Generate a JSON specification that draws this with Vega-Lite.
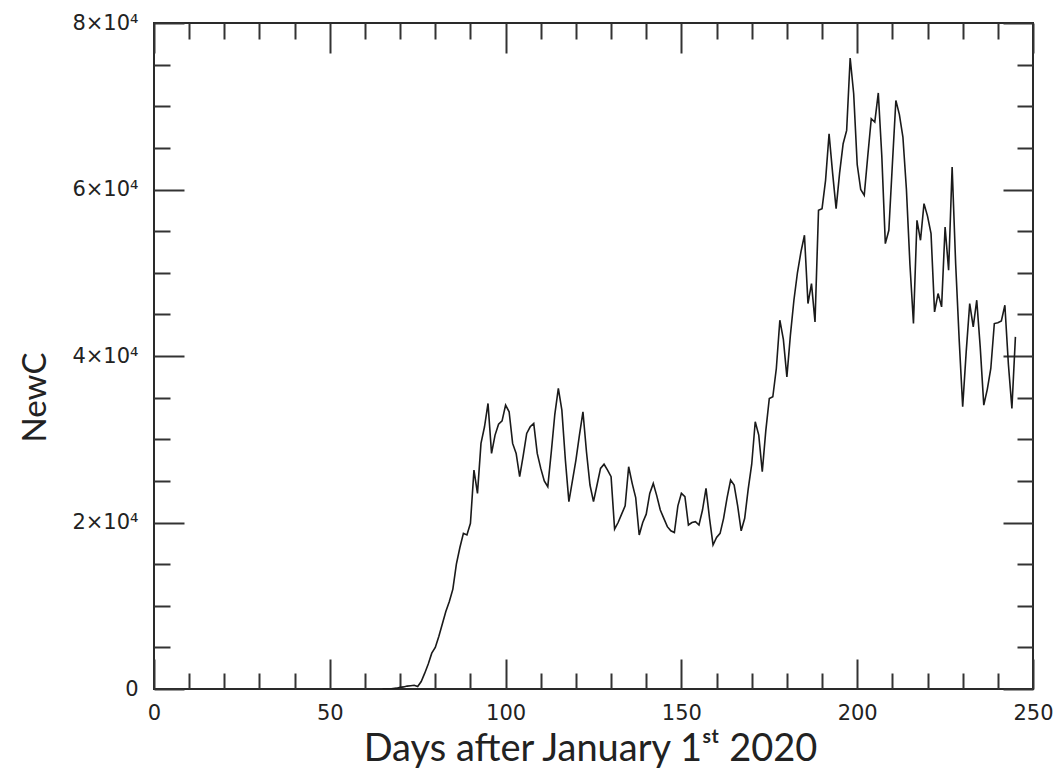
{
  "$schema": "https://vega.github.io/schema/vega-lite/v6.json",
  "width": 879,
  "height": 666,
  "autosize": {"type": "none"},
  "padding": {"left": 154, "top": 23, "right": 29, "bottom": 85},
  "background": "white",
  "config": {
    "view": {"stroke": "#2a2a2a", "strokeWidth": 2},
    "axis": {"domain": false, "grid": false, "tickColor": "#333", "tickWidth": 2}
  },
  "data": {"values": [
    {"day": 65, "NewC": 0}, {"day": 66, "NewC": 0}, {"day": 67, "NewC": 0}, {"day": 68, "NewC": 50}, {"day": 69, "NewC": 100},
    {"day": 70, "NewC": 200}, {"day": 71, "NewC": 250}, {"day": 72, "NewC": 350}, {"day": 73, "NewC": 400}, {"day": 74, "NewC": 450},
    {"day": 75, "NewC": 300}, {"day": 76, "NewC": 900}, {"day": 77, "NewC": 1900}, {"day": 78, "NewC": 3000}, {"day": 79, "NewC": 4300},
    {"day": 80, "NewC": 5000}, {"day": 81, "NewC": 6300}, {"day": 82, "NewC": 7800}, {"day": 83, "NewC": 9300}, {"day": 84, "NewC": 10500},
    {"day": 85, "NewC": 12000}, {"day": 86, "NewC": 15000}, {"day": 87, "NewC": 17000}, {"day": 88, "NewC": 18700}, {"day": 89, "NewC": 18500},
    {"day": 90, "NewC": 19900}, {"day": 91, "NewC": 26300}, {"day": 92, "NewC": 23500}, {"day": 93, "NewC": 29500}, {"day": 94, "NewC": 31500},
    {"day": 95, "NewC": 34300}, {"day": 96, "NewC": 28300}, {"day": 97, "NewC": 30500}, {"day": 98, "NewC": 31800}, {"day": 99, "NewC": 32200},
    {"day": 100, "NewC": 34100}, {"day": 101, "NewC": 33300}, {"day": 102, "NewC": 29500}, {"day": 103, "NewC": 28300}, {"day": 104, "NewC": 25500},
    {"day": 105, "NewC": 28000}, {"day": 106, "NewC": 30700}, {"day": 107, "NewC": 31500}, {"day": 108, "NewC": 31900}, {"day": 109, "NewC": 28300},
    {"day": 110, "NewC": 26500}, {"day": 111, "NewC": 25000}, {"day": 112, "NewC": 24300}, {"day": 113, "NewC": 28500}, {"day": 114, "NewC": 33000},
    {"day": 115, "NewC": 36100}, {"day": 116, "NewC": 33500}, {"day": 117, "NewC": 27500}, {"day": 118, "NewC": 22500}, {"day": 119, "NewC": 25000},
    {"day": 120, "NewC": 27500}, {"day": 121, "NewC": 30500}, {"day": 122, "NewC": 33300}, {"day": 123, "NewC": 28500}, {"day": 124, "NewC": 24500},
    {"day": 125, "NewC": 22500}, {"day": 126, "NewC": 24500}, {"day": 127, "NewC": 26500}, {"day": 128, "NewC": 27000}, {"day": 129, "NewC": 26300},
    {"day": 130, "NewC": 25500}, {"day": 131, "NewC": 19200}, {"day": 132, "NewC": 20000}, {"day": 133, "NewC": 21000}, {"day": 134, "NewC": 22000},
    {"day": 135, "NewC": 26700}, {"day": 136, "NewC": 24700}, {"day": 137, "NewC": 23000}, {"day": 138, "NewC": 18500}, {"day": 139, "NewC": 20000},
    {"day": 140, "NewC": 21000}, {"day": 141, "NewC": 23500}, {"day": 142, "NewC": 24700}, {"day": 143, "NewC": 23200}, {"day": 144, "NewC": 21500},
    {"day": 145, "NewC": 20500}, {"day": 146, "NewC": 19500}, {"day": 147, "NewC": 19000}, {"day": 148, "NewC": 18800}, {"day": 149, "NewC": 22000},
    {"day": 150, "NewC": 23500}, {"day": 151, "NewC": 23100}, {"day": 152, "NewC": 19700}, {"day": 153, "NewC": 20000}, {"day": 154, "NewC": 20100},
    {"day": 155, "NewC": 19700}, {"day": 156, "NewC": 21500}, {"day": 157, "NewC": 24100}, {"day": 158, "NewC": 20500}, {"day": 159, "NewC": 17300},
    {"day": 160, "NewC": 18200}, {"day": 161, "NewC": 18700}, {"day": 162, "NewC": 20500}, {"day": 163, "NewC": 23000}, {"day": 164, "NewC": 25100},
    {"day": 165, "NewC": 24500}, {"day": 166, "NewC": 22000}, {"day": 167, "NewC": 19000}, {"day": 168, "NewC": 20500}, {"day": 169, "NewC": 24000},
    {"day": 170, "NewC": 27000}, {"day": 171, "NewC": 32100}, {"day": 172, "NewC": 30500}, {"day": 173, "NewC": 26100}, {"day": 174, "NewC": 31000},
    {"day": 175, "NewC": 34900}, {"day": 176, "NewC": 35100}, {"day": 177, "NewC": 38500}, {"day": 178, "NewC": 44300}, {"day": 179, "NewC": 42000},
    {"day": 180, "NewC": 37500}, {"day": 181, "NewC": 42500}, {"day": 182, "NewC": 46700}, {"day": 183, "NewC": 50000}, {"day": 184, "NewC": 52500},
    {"day": 185, "NewC": 54500}, {"day": 186, "NewC": 46300}, {"day": 187, "NewC": 48700}, {"day": 188, "NewC": 44100}, {"day": 189, "NewC": 57500},
    {"day": 190, "NewC": 57700}, {"day": 191, "NewC": 61100}, {"day": 192, "NewC": 66700}, {"day": 193, "NewC": 62000}, {"day": 194, "NewC": 57700},
    {"day": 195, "NewC": 62000}, {"day": 196, "NewC": 65500}, {"day": 197, "NewC": 67100}, {"day": 198, "NewC": 75800}, {"day": 199, "NewC": 71500},
    {"day": 200, "NewC": 63000}, {"day": 201, "NewC": 60000}, {"day": 202, "NewC": 59300}, {"day": 203, "NewC": 64000}, {"day": 204, "NewC": 68500},
    {"day": 205, "NewC": 68100}, {"day": 206, "NewC": 71600}, {"day": 207, "NewC": 64000}, {"day": 208, "NewC": 53500}, {"day": 209, "NewC": 55100},
    {"day": 210, "NewC": 63000}, {"day": 211, "NewC": 70700}, {"day": 212, "NewC": 69000}, {"day": 213, "NewC": 66300}, {"day": 214, "NewC": 60000},
    {"day": 215, "NewC": 51000}, {"day": 216, "NewC": 43900}, {"day": 217, "NewC": 56300}, {"day": 218, "NewC": 53900}, {"day": 219, "NewC": 58300},
    {"day": 220, "NewC": 56800}, {"day": 221, "NewC": 54700}, {"day": 222, "NewC": 45300}, {"day": 223, "NewC": 47500}, {"day": 224, "NewC": 45900},
    {"day": 225, "NewC": 55500}, {"day": 226, "NewC": 50300}, {"day": 227, "NewC": 62700}, {"day": 228, "NewC": 51100}, {"day": 229, "NewC": 42000},
    {"day": 230, "NewC": 33900}, {"day": 231, "NewC": 40500}, {"day": 232, "NewC": 46300}, {"day": 233, "NewC": 43500}, {"day": 234, "NewC": 46700},
    {"day": 235, "NewC": 41000}, {"day": 236, "NewC": 34100}, {"day": 237, "NewC": 36000}, {"day": 238, "NewC": 38500}, {"day": 239, "NewC": 43900},
    {"day": 240, "NewC": 44000}, {"day": 241, "NewC": 44200}, {"day": 242, "NewC": 46100}, {"day": 243, "NewC": 39000}, {"day": 244, "NewC": 33700},
    {"day": 245, "NewC": 42300}
  ]},
  "layer": [
    {
      "mark": {"type": "line", "color": "#1a1a1a", "strokeWidth": 1.6, "clip": true},
      "encoding": {
        "x": {"field": "day", "type": "quantitative", "scale": {"domain": [0, 250], "nice": false, "zero": false},
          "axis": {"orient": "bottom", "values": [0, 50, 100, 150, 200, 250], "tickSize": -30, "labelPadding": 43, "labelFlush": false, "labelOverlap": false,
            "labelFont": "DejaVu Sans", "labelFontSize": 21, "labelColor": "#222",
            "title": "Days after January 1ˢᵗ 2020", "titleFont": "Lato", "titleFontWeight": "normal", "titleFontSize": 38, "titleColor": "#222",
            "titleX": 436, "titleY": 71, "titleBaseline": "alphabetic", "titleAlign": "center", "titleAnchor": null}},
        "y": {"field": "NewC", "type": "quantitative", "scale": {"domain": [0, 80000], "nice": false},
          "axis": {"orient": "left", "values": [0, 20000, 40000, 60000, 80000], "tickSize": -30, "labelPadding": 46, "labelFlush": false, "labelOverlap": false,
            "labelFont": "DejaVu Sans", "labelFontSize": 21, "labelColor": "#222",
            "labelExpr": "datum.value == 0 ? '0' : (datum.value / 10000) + '×10⁴'",
            "title": "NewC", "titleFont": "Lato", "titleFontWeight": "normal", "titleFontSize": 33, "titleColor": "#222",
            "titleX": -109, "titleY": 374, "titleAngle": -90, "titleBaseline": "alphabetic", "titleAlign": "center", "titleAnchor": null}}
      }
    },
    {
      "mark": {"type": "line", "strokeOpacity": 0},
      "encoding": {
        "x": {"field": "day", "type": "quantitative",
          "axis": {"orient": "bottom", "values": [10, 20, 30, 40, 60, 70, 80, 90, 110, 120, 130, 140, 160, 170, 180, 190, 210, 220, 230, 240], "tickSize": -16, "labels": false, "title": null}},
        "y": {"field": "NewC", "type": "quantitative",
          "axis": {"orient": "left", "values": [5000, 10000, 15000, 25000, 30000, 35000, 45000, 50000, 55000, 65000, 70000, 75000], "tickSize": -16, "labels": false, "title": null}}
      }
    },
    {
      "mark": {"type": "line", "strokeOpacity": 0},
      "encoding": {
        "x": {"field": "day", "type": "quantitative",
          "axis": {"orient": "top", "values": [0, 50, 100, 150, 200, 250], "tickSize": -30, "labels": false, "title": null}},
        "y": {"field": "NewC", "type": "quantitative",
          "axis": {"orient": "right", "values": [0, 20000, 40000, 60000, 80000], "tickSize": -30, "labels": false, "title": null}}
      }
    },
    {
      "mark": {"type": "line", "strokeOpacity": 0},
      "encoding": {
        "x": {"field": "day", "type": "quantitative",
          "axis": {"orient": "top", "values": [10, 20, 30, 40, 60, 70, 80, 90, 110, 120, 130, 140, 160, 170, 180, 190, 210, 220, 230, 240], "tickSize": -16, "labels": false, "title": null}},
        "y": {"field": "NewC", "type": "quantitative",
          "axis": {"orient": "right", "values": [5000, 10000, 15000, 25000, 30000, 35000, 45000, 50000, 55000, 65000, 70000, 75000], "tickSize": -16, "labels": false, "title": null}}
      }
    }
  ],
  "resolve": {"axis": {"x": "independent", "y": "independent"}}
}
